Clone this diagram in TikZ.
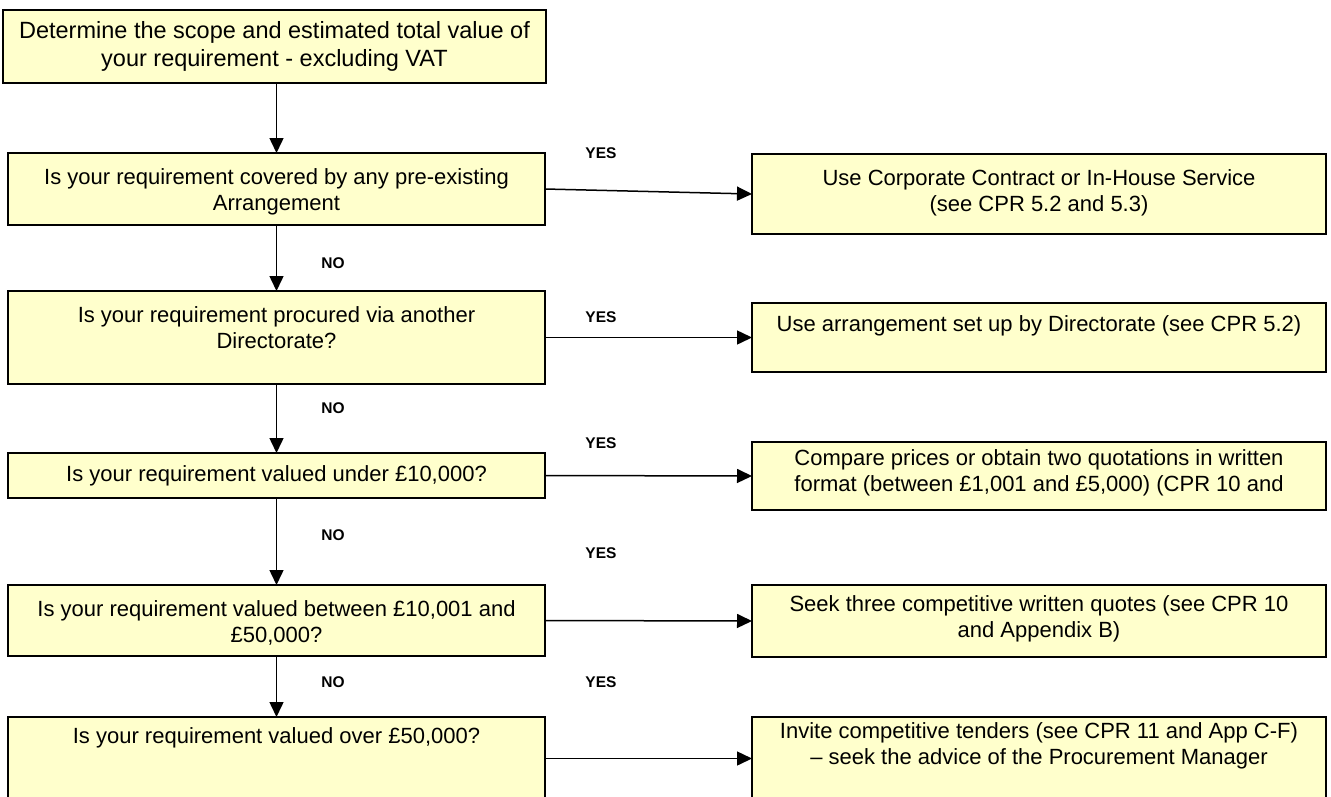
\documentclass[tikz,border=0pt]{standalone}
\usepackage{fontspec}
\setmainfont{Liberation Sans}
\usetikzlibrary{arrows.meta}

\definecolor{boxfill}{HTML}{FFFFCC}

% Box content: width, height, top padding, text (top aligned, centred lines)
\newcommand\boxtext[4]{\parbox[c][#2pt][t]{#1pt}{\centering\vspace*{#3pt}\strut#4\par}}

\begin{document}
\begin{tikzpicture}[
  x=1pt, y=-1pt,
  stepbox/.style={draw=black, line width=1.6pt, fill=boxfill, inner sep=0pt,
    outer sep=0pt, anchor=north west, font=\fontsize{22}{26}\selectfont},
  startbox/.style={stepbox, line width=2.8pt, font=\fontsize{23.5}{28}\selectfont},
  flow/.style={line width=1.5pt, -{Triangle[length=15pt,width=14pt]}},
  lbl/.style={font=\fontsize{15.5}{18}\selectfont\bfseries, inner sep=0pt},
]
\useasboundingbox (0,0) rectangle (1331,796);
\clip (0,0) rectangle (1331,796);

% Question column
\node[startbox] (b1) at (3,10)
  {\parbox[c][73pt][c]{543pt}{\centering Determine the scope and estimated total value of\\ your requirement - excluding VAT\par}};
\node[stepbox] (b2) at (8,153)
  {\boxtext{537}{72}{13.5}{Is your requirement covered by any pre-existing\\ Arrangement}};
\node[stepbox] (b3) at (8,291)
  {\boxtext{537}{93}{12.8}{Is your requirement procured via another\\ Directorate?}};
\node[stepbox] (b4) at (8,453)
  {\boxtext{537}{45}{10}{Is your requirement valued under £10,000?}};
\node[stepbox] (b5) at (8,585)
  {\boxtext{537}{71}{13}{Is your requirement valued between £10,001 and\\ £50,000?}};
\node[stepbox] (b6) at (8,717)
  {\boxtext{537}{83}{8}{Is your requirement valued over £50,000?}};

% Action column
\node[stepbox] (r1) at (752,154)
  {\boxtext{574}{80}{13}{Use Corporate Contract or In-House Service\\ (see CPR 5.2 and 5.3)}};
\node[stepbox] (r2) at (752,303)
  {\boxtext{574}{69}{10}{Use arrangement set up by Directorate (see CPR 5.2)}};
\node[stepbox] (r3) at (752,442)
  {\boxtext{574}{68}{5}{Compare prices or obtain two quotations in written\\ format (between £1,001 and £5,000) (CPR 10 and}};
\node[stepbox] (r4) at (752,585)
  {\boxtext{574}{72}{8}{Seek three competitive written quotes (see CPR 10\\ and Appendix B)}};
\node[stepbox] (r5) at (752,717)
  {\boxtext{574}{83}{3}{Invite competitive tenders (see CPR 11 and App C-F)\\ – seek the advice of the Procurement Manager}};

% NO branches
\draw[flow] (b2.north |- b1.south) -- (b2.north);
\draw[flow] (b2.south) -- (b3.north);
\draw[flow] (b3.south) -- (b4.north);
\draw[flow] (b4.south) -- (b5.north);
\draw[flow] (b5.south) -- (b6.north);

% YES branches
\draw[flow] (b2.east) -- (r1.west);
\draw[flow] (b3.east) -- (r2.west);
\draw[flow] (b4.east) -- (r3.west);
\draw[flow] (b5.east) -- (r4.west);
\draw[flow] (b6.east) -- (r5.west);

% Branch labels
\node[lbl] (no1) at (333,263) {NO};
\node[lbl] (no2) at (333,408) {NO};
\node[lbl] (no3) at (333,535) {NO};
\node[lbl] (no4) at (333,682) {NO};
\node[lbl] (yes1) at (601,153) {YES};
\node[lbl] (yes2) at (601,317) {YES};
\node[lbl] (yes3) at (601,443) {YES};
\node[lbl] (yes4) at (601,553) {YES};
\node[lbl] (yes5) at (601,682) {YES};
\end{tikzpicture}
\end{document}
